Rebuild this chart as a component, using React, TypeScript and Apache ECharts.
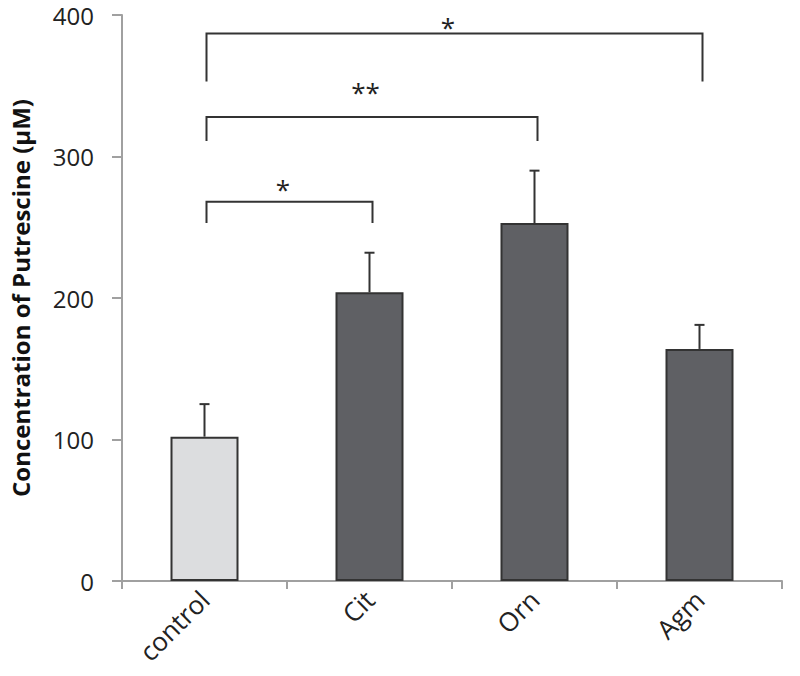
import React, { useEffect, useRef } from "react";
import * as echarts from "echarts";

const categories = ["control", "Cit", "Orn", "Agm"];
const means = [102, 204, 253, 164];
const errUpper = [125, 232, 290, 181];
const barColors = ["#dcdddf", "#5f6064", "#5f6064", "#5f6064"];

const yTicks = { min: 0, max: 400, interval: 100 };

// significance brackets: from category index, to category index, bar level, drop level, label level, label
const bracketFrom = [0, 0, 0];
const bracketTo = [1, 2, 3];
const bracketLevel = [268, 328, 387];
const bracketDrop = [253, 311, 353];
const bracketLabelLevel = [281, 350, 396];
const bracketLabels = ["*", "**", "*"];

export default function App() {
  const ref = useRef<HTMLDivElement>(null);
  useEffect(() => {
    if (!ref.current) return;
    const chart = echarts.init(ref.current, null, { renderer: "svg" });
    const font = "'Open Sans', 'Noto Sans', sans-serif";
    chart.setOption({
      animation: false,
      grid: { left: 122, right: 18, top: 15, bottom: 95 },
      xAxis: {
        type: "category",
        data: categories,
        boundaryGap: true,
        axisLine: { show: true, lineStyle: { color: "#a0a0a0", width: 2 } },
        axisTick: { show: true, length: 8, lineStyle: { color: "#a0a0a0", width: 2 } },
        axisLabel: { rotate: 45, fontSize: 26, color: "#222", fontFamily: font, margin: 14 },
      },
      yAxis: {
        type: "value",
        min: yTicks.min,
        max: yTicks.max,
        interval: yTicks.interval,
        name: "Concentration of Putrescine (μM)",
        nameLocation: "middle",
        nameGap: 90,
        nameTextStyle: { fontSize: 24, fontWeight: "bold", color: "#111", fontFamily: font },
        axisLine: { show: true, lineStyle: { color: "#a0a0a0", width: 2 } },
        axisTick: { show: true, length: 10, lineStyle: { color: "#a0a0a0", width: 2 } },
        splitLine: { show: false },
        axisLabel: { fontSize: 24, color: "#222", fontFamily: font, margin: 28 },
      },
      series: [
        {
          type: "bar",
          barWidth: 68,
          data: means.map((v, i) => ({
            value: v,
            itemStyle: { color: barColors[i], borderColor: "#333", borderWidth: 2 },
          })),
          z: 2,
        },
        {
          type: "custom",
          z: 3,
          data: means.map((v, i) => [i, v, errUpper[i]]),
          renderItem: (params: any, api: any) => {
            const x = api.value(0);
            const lo = api.coord([x, api.value(1)]);
            const hi = api.coord([x, api.value(2)]);
            const style = { stroke: "#333", lineWidth: 2 };
            return {
              type: "group",
              children: [
                { type: "line", shape: { x1: lo[0], y1: lo[1], x2: hi[0], y2: hi[1] }, style },
                { type: "line", shape: { x1: hi[0] - 5, y1: hi[1], x2: hi[0] + 5, y2: hi[1] }, style },
              ],
            };
          },
        },
        {
          type: "custom",
          z: 3,
          data: bracketFrom.map((f, i) => [f, bracketTo[i], bracketLevel[i], bracketDrop[i], bracketLabelLevel[i]]),
          renderItem: (params: any, api: any) => {
            const i = params.dataIndex;
            const a = api.coord([api.value(0), api.value(2)]);
            const b = api.coord([api.value(1), api.value(2)]);
            const ad = api.coord([api.value(0), api.value(3)]);
            const lab = api.coord([api.value(0), api.value(4)]);
            const style = { stroke: "#333", lineWidth: 2, fill: "none" };
            return {
              type: "group",
              children: [
                {
                  type: "polyline",
                  shape: { points: [[a[0] + 2, ad[1]], [a[0] + 2, a[1]], [b[0] + 3, b[1]], [b[0] + 3, ad[1]]] },
                  style,
                },
                {
                  type: "text",
                  x: (a[0] + b[0]) / 2 - 4,
                  y: lab[1] + 6,
                  style: {
                    text: bracketLabels[i],
                    fontSize: 26,
                    fontFamily: font,
                    fill: "#222",
                    align: "center",
                    verticalAlign: "middle",
                  },
                },
              ],
            };
          },
        },
      ],
    });
    return () => chart.dispose();
  }, []);
  return <div ref={ref} style={{ width: 800, height: 676, margin: -8 }} />;
}
